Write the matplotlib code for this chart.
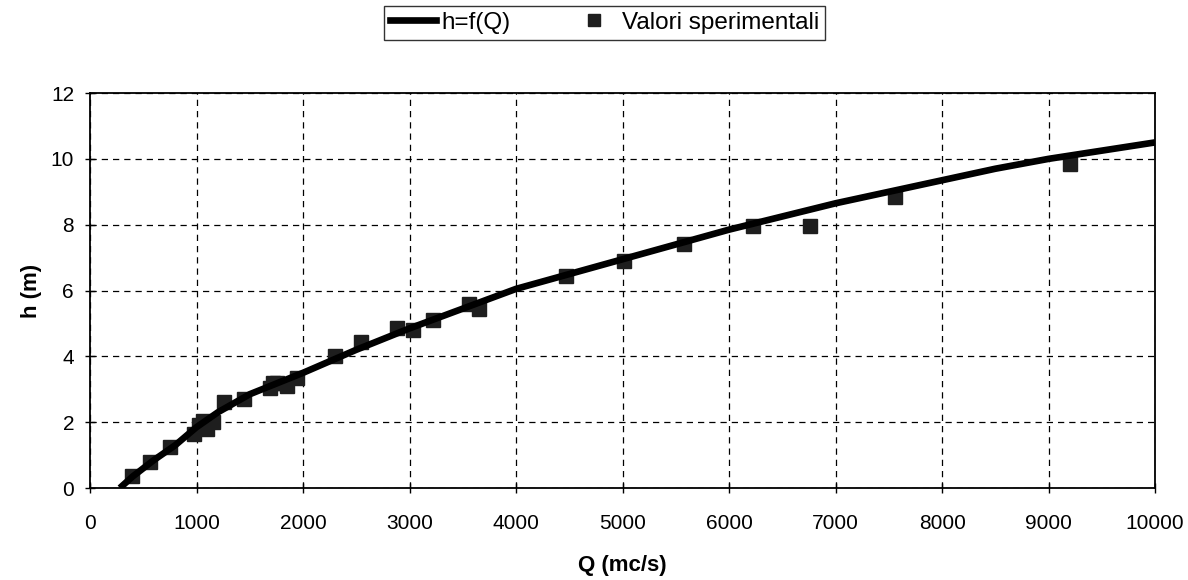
import matplotlib
matplotlib.use("Agg")
import matplotlib.pyplot as plt
from matplotlib.lines import Line2D

plt.rcParams['font.family'] = ['Liberation Sans', 'DejaVu Sans']

# Rating curve h = f(Q)
curve_q = [280, 400, 600, 800, 1000, 1200, 1500, 2000, 2500, 3000, 3500,
           4000, 4500, 5000, 5500, 6000, 6500, 7000, 7500, 8000, 8500,
           9000, 9500, 10000]
curve_h = [0.0, 0.35, 0.85, 1.3, 1.85, 2.3, 2.85, 3.5, 4.2, 4.85, 5.45,
           6.05, 6.5, 6.95, 7.4, 7.85, 8.25, 8.65, 9.0, 9.35, 9.7,
           10.0, 10.25, 10.5]

# Measured discharge / stage pairs
meas_q = [390, 560, 750, 980, 1020, 1060, 1100, 1150, 1262, 1450, 1690,
          1720, 1760, 1850, 1940, 2300, 2540, 2880, 3030, 3220, 3560,
          3650, 4470, 5010, 5575, 6220, 6760, 7560, 9200]
meas_h = [0.35, 0.8, 1.25, 1.65, 1.9, 2.05, 1.8, 2.0, 2.6, 2.7, 3.05,
          3.2, 3.2, 3.1, 3.35, 4.0, 4.45, 4.85, 4.8, 5.1, 5.6,
          5.45, 6.45, 6.9, 7.4, 7.95, 7.95, 8.85, 9.85]

x_ticks = list(range(0, 10001, 1000))
y_ticks = list(range(0, 13, 2))

fig = plt.figure(figsize=(11.88, 5.8), dpi=100)
ax = fig.add_axes([0.0758, 0.1586, 0.8965, 0.681])

ax.plot(meas_q, meas_h, linestyle='none', marker='s', markersize=10,
        color='#1e1e1e', zorder=2)
ax.plot(curve_q, curve_h, color='black', linewidth=4.8, zorder=3,
        solid_capstyle='butt')

ax.set_xlim(0, 10000)
ax.set_ylim(0, 12)
ax.set_xticks(x_ticks)
ax.set_yticks(y_ticks)
ax.tick_params(axis='both', labelsize=15, direction='inout', length=7,
               width=1, colors='black')
ax.tick_params(axis='x', pad=15)
ax.tick_params(axis='y', pad=8)
ax.grid(True, color='black', linestyle=(0, (5, 4)), linewidth=0.9)
for sp in ax.spines.values():
    sp.set_color('black')
    sp.set_linewidth(1.3)

ax.set_xlabel('Q (mc/s)', fontsize=16, fontweight='bold', labelpad=16)
ax.set_ylabel('h (m)', fontsize=16, fontweight='bold', labelpad=6)

handles = [
    Line2D([], [], color='black', linewidth=4.8),
    Line2D([], [], color='#1e1e1e', marker='s', linestyle='none', markersize=8),
]
leg = fig.legend(handles, ['h=f(Q)', 'Valori sperimentali'],
                 loc='center', bbox_to_anchor=(0.509, 0.961), ncol=2,
                 fontsize=17.5, frameon=True, fancybox=False,
                 edgecolor='black', handlelength=1.9, handletextpad=0.2,
                 columnspacing=2.5, borderpad=0.25, borderaxespad=0.2)
leg.get_frame().set_linewidth(1.0)

fig.savefig('out.png', dpi=100, facecolor='white')
